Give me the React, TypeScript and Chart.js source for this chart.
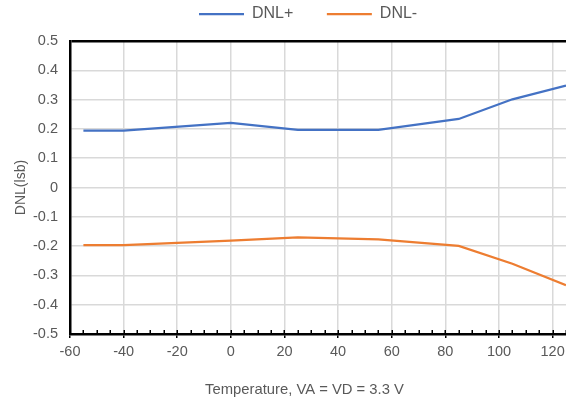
import React, { useEffect, useRef } from 'react';
import { Chart, registerables } from 'chart.js';

Chart.register(...registerables);

// ---- data ----
const temperatures = [-55, -40, 0, 25, 55, 85, 105, 125];
const dnlPlus = [0.194, 0.194, 0.221, 0.197, 0.197, 0.234, 0.301, 0.348];
const dnlMinus = [-0.197, -0.197, -0.181, -0.170, -0.177, -0.199, -0.260, -0.333];
const seriesLabels = ['DNL+', 'DNL-'];
const seriesColors = ['#4472C4', '#ED7D31'];
const xTitle = 'Temperature, VA = VD = 3.3 V';
const yTitle = 'DNL(lsb)';
const xMin = -60;
const xMax = 125;
const xStep = 20;
const xMinorStep = 5;
const yMin = -0.5;
const yMax = 0.5;
const yStep = 0.1;

const TEXT = '#595959';
const GRID = '#d9d9d9';
const FONT = '"Liberation Sans", Arial, sans-serif';

const tweaks = {
  id: 'tweaks',
  beforeLayout(chart: any) {
    const lg = chart.legend;
    if (lg && !lg._patched) {
      const orig = lg.fit;
      lg.fit = function () {
        orig.call(this);
        this.height = 41;
      };
      lg._patched = true;
    }
  },
  afterLayout(chart: any) {
    const lg = chart.legend;
    if (lg && lg.lineWidths) {
      const pad = lg.options.labels.padding;
      const top = 14 - pad - 8;
      lg.top = top;
      lg.bottom = top + 90;
      const x0 = (lg.left + pad + lg.right - lg.lineWidths[0]) / 2;
      const dx = 199 - x0;
      lg.left += dx;
      lg.right += dx;
    }
    const t = chart.titleBlock;
    if (t) {
      t.left += 21.5;
      t.right += 21.5;
    }
  },
  afterDraw(chart: any) {
    const xs = chart.scales.x;
    const ctx = chart.ctx;
    const bottom = chart.chartArea.bottom;
    ctx.save();
    ctx.strokeStyle = '#000';
    ctx.lineWidth = 1.5;
    for (let v = xMin; v <= xMax; v += xMinorStep) {
      const x = Math.round(xs.getPixelForValue(v)) + 0.25;
      ctx.beginPath();
      ctx.moveTo(x, bottom);
      ctx.lineTo(x, bottom - 4);
      ctx.stroke();
    }
    ctx.restore();
  },
};

export default function App() {
  const ref = useRef<HTMLCanvasElement>(null);
  useEffect(() => {
    document.body.style.margin = '0';
    const canvas = ref.current!;
    const series = [dnlPlus, dnlMinus];
    const chart = new Chart(canvas, {
      type: 'line',
      data: {
        datasets: series.map((vals, i) => ({
          label: seriesLabels[i],
          data: temperatures.map((t, j) => ({ x: t, y: vals[j] })),
          borderColor: seriesColors[i],
          backgroundColor: seriesColors[i],
          borderWidth: 2.25,
          pointRadius: 0,
          tension: 0,
        })),
      },
      options: {
        responsive: false,
        animation: false,
        devicePixelRatio: 1,
        layout: { padding: 0, autoPadding: false },
        scales: {
          x: {
            type: 'linear',
            min: xMin,
            max: xMax,
            afterFit: (s: any) => {
              s.height = 403 - 335 - 25.4;
              s.paddingLeft = 0;
              s.paddingRight = 0;
            },
            ticks: {
              stepSize: xStep,
              includeBounds: false,
              color: TEXT,
              font: { family: FONT, size: 14.5 },
              padding: 5,
              maxRotation: 0,
            },
            grid: {
              color: GRID,
              lineWidth: 1.5,
              tickLength: 4,
              tickColor: '#000',
              tickWidth: 1.5,
            },
            border: { color: '#000', width: 2.5 },
          },
          y: {
            min: yMin,
            max: yMax,
            afterFit: (s: any) => {
              s.width = 70;
              s.paddingTop = 0;
              s.paddingBottom = 0;
            },
            ticks: {
              stepSize: yStep,
              color: TEXT,
              font: { family: FONT, size: 14.5 },
              padding: 12,
              callback: (v: any) => String(Number(Number(v).toFixed(1))),
            },
            grid: {
              drawTicks: false,
              color: (c: any) => (Math.abs(c.tick.value - yMax) < 1e-9 ? '#000' : GRID),
              lineWidth: (c: any) => (Math.abs(c.tick.value - yMax) < 1e-9 ? 2.5 : 1.5),
            },
            border: { color: '#000', width: 2.5 },
            title: {
              display: true,
              text: yTitle,
              color: TEXT,
              font: { family: FONT, size: 14 },
              padding: { top: 13, bottom: 0 },
            },
          },
        },
        plugins: {
          legend: {
            position: 'top',
            labels: {
              usePointStyle: true,
              pointStyle: 'line',
              pointStyleWidth: 45,
              padding: 33.5,
              color: TEXT,
              font: { family: FONT, size: 16 },
            },
          },
          title: {
            display: true,
            position: 'bottom',
            text: xTitle,
            color: TEXT,
            font: { family: FONT, size: 14.8, weight: 'normal' },
            padding: { top: 4, bottom: 4.6 },
          },
          tooltip: { enabled: false },
        },
      },
      plugins: [tweaks],
    } as any);
    return () => chart.destroy();
  }, []);
  return (
    <div style={{ width: 566, height: 403 }}>
      <canvas ref={ref} width={566} height={403} />
    </div>
  );
}
